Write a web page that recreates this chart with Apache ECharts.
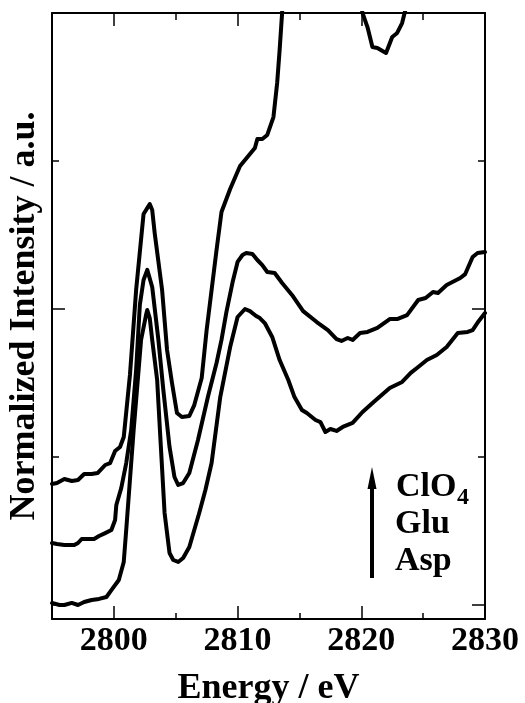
<!DOCTYPE html>
<html>
<head>
<meta charset="utf-8">
<script src="https://cdn.jsdelivr.net/npm/echarts@6/dist/echarts.min.js"></script>
<style>
html,body{margin:0;padding:0;background:#fff;}
#c{width:525px;height:703px;}
</style>
</head>
<body>
<div id="c"></div>
<script>
// Energy (eV) and normalized intensity (a.u., offset) for each spectrum
var clo4E = [2795.0,2795.4,2796.0,2796.6,2797.1,2797.6,2798.2,2798.7,2799.3,2799.7,2800.1,2800.5,2800.8,2801.3,2801.8,2802.4,2802.9,2803.1,2803.3,2803.9,2804.3,2804.7,2805.1,2805.5,2806.1,2806.5,2807.1,2807.5,2807.9,2808.3,2808.7,2809.4,2810.2,2811.0,2811.4,2811.6,2812.0,2812.4,2812.9,2813.2,2813.4,2813.6,2813.8,2817.0,2819.7,2820.1,2820.5,2820.9,2821.3,2822.0,2822.5,2822.9,2823.3,2823.5,2824.0];
var clo4I = [0.818,0.824,0.851,0.838,0.845,0.885,0.885,0.892,0.946,0.959,1.041,1.068,1.135,1.554,2.128,2.642,2.709,2.669,2.514,2.128,1.723,1.500,1.297,1.270,1.277,1.351,1.534,1.858,2.128,2.399,2.655,2.811,2.966,3.047,3.088,3.149,3.149,3.176,3.297,3.527,3.750,4.0,4.49,4.8,4.155,4.0,3.905,3.770,3.764,3.730,3.838,3.865,3.932,4.0,4.155];

var gluE = [2795.0,2795.4,2796.0,2796.8,2797.1,2797.4,2798.0,2798.4,2798.8,2799.3,2799.8,2800.1,2800.2,2800.6,2801.0,2801.4,2801.8,2802.1,2802.4,2802.7,2803.1,2803.6,2804.0,2804.5,2804.9,2805.2,2805.6,2806.1,2806.8,2807.6,2808.3,2808.7,2809.1,2809.6,2810.0,2810.4,2810.7,2811.2,2811.6,2812.0,2812.4,2813.0,2813.6,2814.4,2815.3,2816.4,2817.3,2818.0,2818.4,2818.9,2819.3,2819.9,2820.5,2821.3,2822.3,2822.9,2823.7,2824.6,2825.2,2825.8,2826.2,2826.9,2828.0,2828.4,2829.0,2829.4,2830.0];
var gluI = [0.419,0.412,0.405,0.405,0.419,0.446,0.446,0.446,0.466,0.486,0.507,0.574,0.676,0.791,0.959,1.182,1.588,2.027,2.196,2.264,2.149,1.791,1.453,1.068,0.865,0.811,0.824,0.892,1.115,1.405,1.635,1.791,1.980,2.182,2.318,2.365,2.378,2.372,2.331,2.297,2.250,2.243,2.176,2.095,1.986,1.912,1.858,1.797,1.784,1.804,1.791,1.838,1.845,1.872,1.932,1.932,1.959,2.061,2.074,2.115,2.108,2.162,2.209,2.236,2.351,2.378,2.385];

var aspE = [2795.0,2795.6,2796.0,2796.6,2797.1,2797.6,2798.2,2798.8,2799.4,2799.8,2800.4,2800.8,2801.0,2801.3,2801.6,2801.9,2802.2,2802.6,2802.7,2802.9,2803.1,2803.5,2803.8,2804.1,2804.5,2804.8,2805.2,2805.6,2806.1,2806.9,2807.4,2807.9,2808.6,2809.4,2810.0,2810.6,2811.0,2811.5,2811.8,2812.2,2812.8,2813.4,2814.1,2814.6,2815.2,2815.6,2816.3,2816.7,2817.1,2817.5,2818.0,2818.5,2819.3,2820.1,2821.0,2822.3,2823.3,2824.0,2824.6,2825.3,2826.1,2826.9,2827.8,2828.6,2829.0,2829.5,2830.0];
var aspI = [0.014,0.0,0.0,0.014,0.0,0.020,0.034,0.041,0.054,0.101,0.169,0.291,0.507,0.845,1.182,1.486,1.791,1.959,1.993,1.939,1.791,1.520,1.068,0.622,0.351,0.304,0.291,0.318,0.392,0.622,0.777,0.959,1.405,1.743,1.946,2.0,1.986,1.953,1.939,1.905,1.811,1.655,1.520,1.405,1.318,1.297,1.250,1.236,1.169,1.189,1.176,1.203,1.230,1.304,1.372,1.466,1.507,1.568,1.608,1.655,1.689,1.743,1.838,1.845,1.858,1.919,1.973];

var xMajorTicks = [2800, 2810, 2820];
var xMinorTicks = [2805, 2815, 2825];
var xLabels = [2800, 2810, 2820, 2830];
var yMajorTicks = [0, 2];
var yMinorTicks = [1, 3];
var legendNames = ['ClO', '4', 'Glu', 'Asp'];

function zip(a, b) { return a.map(function (v, i) { return [v, b[i]]; }); }

var FONT = '"Liberation Serif", "Times New Roman", serif';
var X_MIN = 2795, X_MAX = 2830, Y_MIN = -0.0946, Y_MAX = 4.0;

function xAx(pos, ticks, len, showLine, labels, name) {
  return {
    type: 'value', position: pos, min: X_MIN, max: X_MAX,
    axisLine: { show: showLine, onZero: false, lineStyle: { color: '#000', width: 2 } },
    axisTick: { show: true, inside: true, length: len, customValues: ticks, lineStyle: { color: '#000', width: 1.5 } },
    axisLabel: labels ? { show: true, customValues: labels, margin: 5, color: '#000', fontFamily: FONT, fontWeight: 'bold', fontSize: 34,
      formatter: function (v) { return String(Math.round(v)); } } : { show: false },
    splitLine: { show: false },
    name: name || '', nameLocation: 'middle', nameGap: 52,
    nameTextStyle: { color: '#000', fontFamily: FONT, fontWeight: 'bold', fontSize: 36 }
  };
}
function yAx(pos, ticks, len, showLine, name) {
  return {
    type: 'value', position: pos, min: Y_MIN, max: Y_MAX,
    axisLine: { show: showLine, onZero: false, lineStyle: { color: '#000', width: 2 } },
    axisTick: { show: true, inside: true, length: len, customValues: ticks, lineStyle: { color: '#000', width: 1.5 } },
    axisLabel: { show: false },
    splitLine: { show: false },
    name: name || '', nameLocation: 'middle', nameGap: 9,
    nameTextStyle: { color: '#000', fontFamily: FONT, fontWeight: 'bold', fontSize: 36 }
  };
}

function ser(name, e, v) {
  return {
    name: name, type: 'line', data: zip(e, v), xAxisIndex: 0, yAxisIndex: 0,
    showSymbol: false, symbol: 'none', clip: true, animation: false,
    lineStyle: { color: '#000', width: 4, join: 'round', cap: 'round' }
  };
}

var chart = echarts.init(document.getElementById('c'), null, { renderer: 'canvas' });
chart.setOption({
  backgroundColor: '#fff',
  animation: false,
  grid: { left: 52, right: 40, top: 13, bottom: 84, containLabel: false, outerBoundsMode: 'none' },
  xAxis: [
    xAx('bottom', xMajorTicks, 13, true, xLabels, 'Energy / eV'),
    xAx('bottom', xMinorTicks, 6, false, null),
    xAx('top', xMajorTicks, 13, true, null),
    xAx('top', xMinorTicks, 7, false, null)
  ],
  yAxis: [
    yAx('left', yMajorTicks, 13, true, 'Normalized Intensity / a.u.'),
    yAx('left', yMinorTicks, 7, false),
    yAx('right', yMajorTicks, 13, true),
    yAx('right', yMinorTicks, 7, false)
  ],
  series: [
    ser('ClO4', clo4E, clo4I),
    ser('Glu', gluE, gluI),
    ser('Asp', aspE, aspI)
  ],
  graphic: [
    { type: 'line', shape: { x1: 372, y1: 578, x2: 372, y2: 486 }, style: { stroke: '#000', lineWidth: 4 } },
    { type: 'polygon', shape: { points: [[372, 467], [367.5, 489], [376.5, 489]] }, style: { fill: '#000' } },
    { type: 'text', x: 396, y: 487, style: { text: legendNames[0], fill: '#000', font: 'bold 34px ' + FONT, verticalAlign: 'middle', align: 'left' } },
    { type: 'text', x: 457, y: 498, style: { text: legendNames[1], fill: '#000', font: 'bold 24px ' + FONT, verticalAlign: 'middle', align: 'left' } },
    { type: 'text', x: 395, y: 524, style: { text: legendNames[2], fill: '#000', font: 'bold 34px ' + FONT, verticalAlign: 'middle', align: 'left' } },
    { type: 'text', x: 395, y: 561, style: { text: legendNames[3], fill: '#000', font: 'bold 34px ' + FONT, verticalAlign: 'middle', align: 'left' } }
  ]
});
</script>
</body>
</html>
